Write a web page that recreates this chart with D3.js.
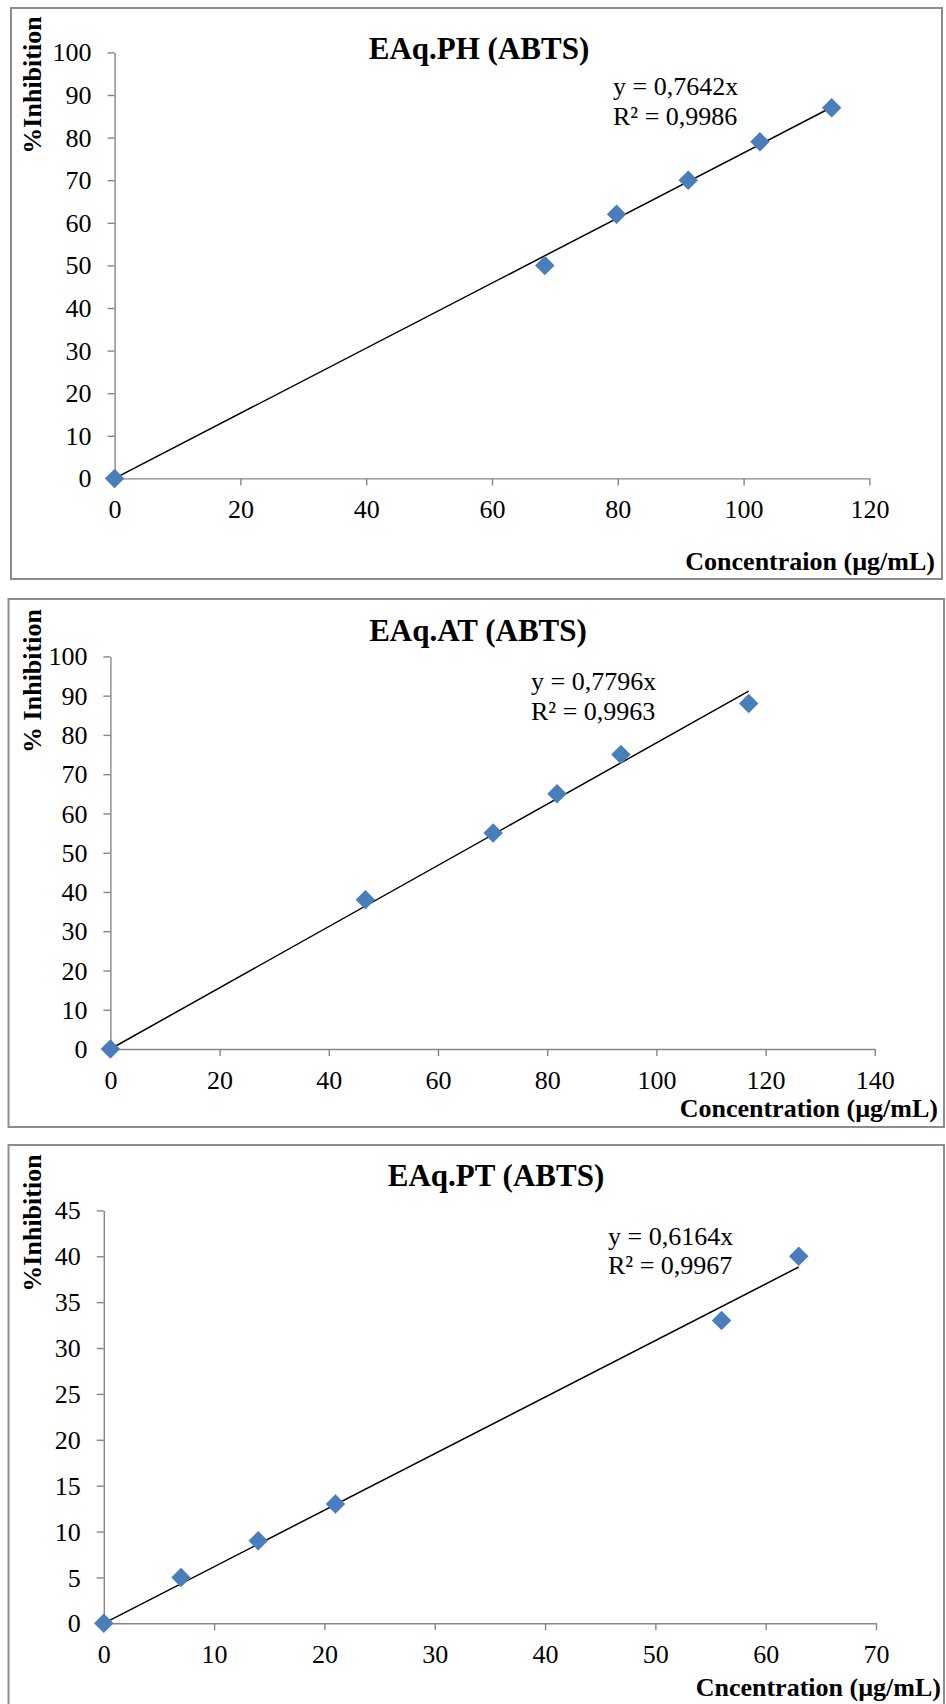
<!DOCTYPE html>
<html>
<head>
<meta charset="utf-8">
<script src="https://cdn.jsdelivr.net/npm/d3@7"></script>
<style>
  html, body { margin: 0; padding: 0; background: #ffffff; }
  svg { display: block; }
  text { font-family: "Times New Roman", "Liberation Serif", serif; fill: #000; }
</style>
</head>
<body>
<svg id="chart" width="946" height="1704"></svg>
<script>
// ABTS radical scavenging: % inhibition vs concentration for three aqueous extracts

// EAq.PH
const phConc   = [0, 68.4, 79.8, 91.2, 102.6, 114];
const phInhib  = [0, 50, 62, 70, 79, 87];
const phSlope  = 0.7642;
const phR2     = 0.9986;
const phXTicks = [0, 20, 40, 60, 80, 100, 120];
const phYTicks = [0, 10, 20, 30, 40, 50, 60, 70, 80, 90, 100];

// EAq.AT
const atConc   = [0, 46.7, 70.1, 81.8, 93.5, 116.9];
const atInhib  = [0, 38, 55, 65, 75, 88];
const atSlope  = 0.7796;
const atR2     = 0.9963;
const atXTicks = [0, 20, 40, 60, 80, 100, 120, 140];
const atYTicks = [0, 10, 20, 30, 40, 50, 60, 70, 80, 90, 100];

// EAq.PT
const ptConc   = [0, 7, 14, 21, 56, 63];
const ptInhib  = [0, 5, 9, 13, 33, 40];
const ptSlope  = 0.6164;
const ptR2     = 0.9967;
const ptXTicks = [0, 10, 20, 30, 40, 50, 60, 70];
const ptYTicks = [0, 5, 10, 15, 20, 25, 30, 35, 40, 45];

const titles  = ["EAq.PH (ABTS)", "EAq.AT (ABTS)", "EAq.PT (ABTS)"];
const yTitles = ["%Inhibition", "% Inhibition", "%Inhibition"];
const xTitles = ["Concentraion (µg/mL)", "Concentration (µg/mL)", "Cncentration (µg/mL)"];

const fmt = v => v.toFixed(4).replace(".", ",");

const panels = [
  {
    conc: phConc, inhib: phInhib, slope: phSlope, r2: phR2, xTicks: phXTicks, yTicks: phYTicks,
    title: titles[0], yTitle: yTitles[0], xTitle: xTitles[0],
    frame: { x0: 11, y0: 8, x1: 942, y1: 579 },
    plot: { left: 114.6, right: 869.4, top: 52.4, bottom: 478.4 },
    titlePos: [479, 59], yTitlePos: [41, 85], xTitlePos: [935, 570],
    eqPos: [613, 95, 125]
  },
  {
    conc: atConc, inhib: atInhib, slope: atSlope, r2: atR2, xTicks: atXTicks, yTicks: atYTicks,
    title: titles[1], yTitle: yTitles[1], xTitle: xTitles[1],
    frame: { x0: 8.5, y0: 599, x1: 944, y1: 1127 },
    plot: { left: 110.4, right: 874.8, top: 656.4, bottom: 1049 },
    titlePos: [478, 641], yTitlePos: [41, 681], xTitlePos: [938, 1117],
    eqPos: [531, 689.5, 720]
  },
  {
    conc: ptConc, inhib: ptInhib, slope: ptSlope, r2: ptR2, xTicks: ptXTicks, yTicks: ptYTicks,
    title: titles[2], yTitle: yTitles[2], xTitle: xTitles[2],
    frame: { x0: 8.5, y0: 1145, x1: 944, y1: 1710 },
    plot: { left: 103.8, right: 876, top: 1210.4, bottom: 1623.3 },
    titlePos: [496, 1186], yTitlePos: [41, 1223], xTitlePos: [941, 1696],
    eqPos: [608, 1244.5, 1274]
  }
];

const svg = d3.select("#chart");
const axisColor = "#868686";
const markerColor = "#4a7ebb";

panels.forEach(p => {
  const g = svg.append("g");

  // outer chart frame
  g.append("rect")
    .attr("x", p.frame.x0).attr("y", p.frame.y0)
    .attr("width", p.frame.x1 - p.frame.x0)
    .attr("height", p.frame.y1 - p.frame.y0)
    .attr("fill", "#fff")
    .attr("stroke", "#8c8c8c")
    .attr("stroke-width", 2);

  const x = d3.scaleLinear()
    .domain([p.xTicks[0], p.xTicks[p.xTicks.length - 1]])
    .range([p.plot.left, p.plot.right]);
  const y = d3.scaleLinear()
    .domain([p.yTicks[0], p.yTicks[p.yTicks.length - 1]])
    .range([p.plot.bottom, p.plot.top]);

  // y axis
  const yAxis = g.append("g")
    .attr("transform", `translate(${p.plot.left},0)`)
    .call(d3.axisLeft(y).tickValues(p.yTicks).tickSize(7).tickSizeOuter(0).tickPadding(16).tickFormat(d3.format("d")));
  // x axis
  const xAxis = g.append("g")
    .attr("transform", `translate(0,${p.plot.bottom})`)
    .call(d3.axisBottom(x).tickValues(p.xTicks).tickSize(7).tickSizeOuter(0).tickFormat(d3.format("d")));

  [yAxis, xAxis].forEach(a => {
    a.attr("font-family", null).attr("font-size", null);
    a.select(".domain").attr("stroke", axisColor).attr("stroke-width", 1.4);
    a.selectAll(".tick line").attr("stroke", axisColor).attr("stroke-width", 1.4);
    a.selectAll(".tick text")
      .attr("fill", "#000")
      .style("font-family", '"Times New Roman", "Liberation Serif", serif')
      .style("font-size", "26px");
  });
  xAxis.selectAll(".tick text").attr("y", 40).attr("dy", 0);
  yAxis.selectAll(".tick text").attr("dy", "0.33em");

  // linear trendline through the origin, y = slope * x
  const xMax = d3.max(p.conc);
  g.append("line")
    .attr("x1", x(0)).attr("y1", y(0))
    .attr("x2", x(xMax)).attr("y2", y(p.slope * xMax))
    .attr("stroke", "#000")
    .attr("stroke-width", 1.5);

  // diamond markers
  const diamond = d3.symbol().type(d3.symbolSquare).size(190);
  g.selectAll("path.pt")
    .data(p.conc.map((c, i) => [c, p.inhib[i]]))
    .join("path")
    .attr("class", "pt")
    .attr("d", diamond)
    .attr("fill", markerColor)
    .attr("transform", d => `translate(${x(d[0])},${y(d[1])}) rotate(45)`);

  // trendline equation
  g.append("text")
    .attr("x", p.eqPos[0]).attr("y", p.eqPos[1])
    .style("font-size", "26px")
    .text(`y = ${fmt(p.slope)}x`);
  g.append("text")
    .attr("x", p.eqPos[0]).attr("y", p.eqPos[2])
    .style("font-size", "26px")
    .text(`R² = ${fmt(p.r2)}`);

  // chart title
  g.append("text")
    .attr("x", p.titlePos[0]).attr("y", p.titlePos[1])
    .attr("text-anchor", "middle")
    .style("font-size", "31px")
    .style("font-weight", "bold")
    .text(p.title);

  // y-axis title
  g.append("text")
    .attr("transform", `translate(${p.yTitlePos[0]},${p.yTitlePos[1]}) rotate(-90)`)
    .attr("text-anchor", "middle")
    .style("font-size", "26px")
    .style("font-weight", "bold")
    .text(p.yTitle);

  // x-axis title
  g.append("text")
    .attr("x", p.xTitlePos[0]).attr("y", p.xTitlePos[1])
    .attr("text-anchor", "end")
    .style("font-size", "26px")
    .style("font-weight", "bold")
    .text(p.xTitle);
});
</script>
</body>
</html>
